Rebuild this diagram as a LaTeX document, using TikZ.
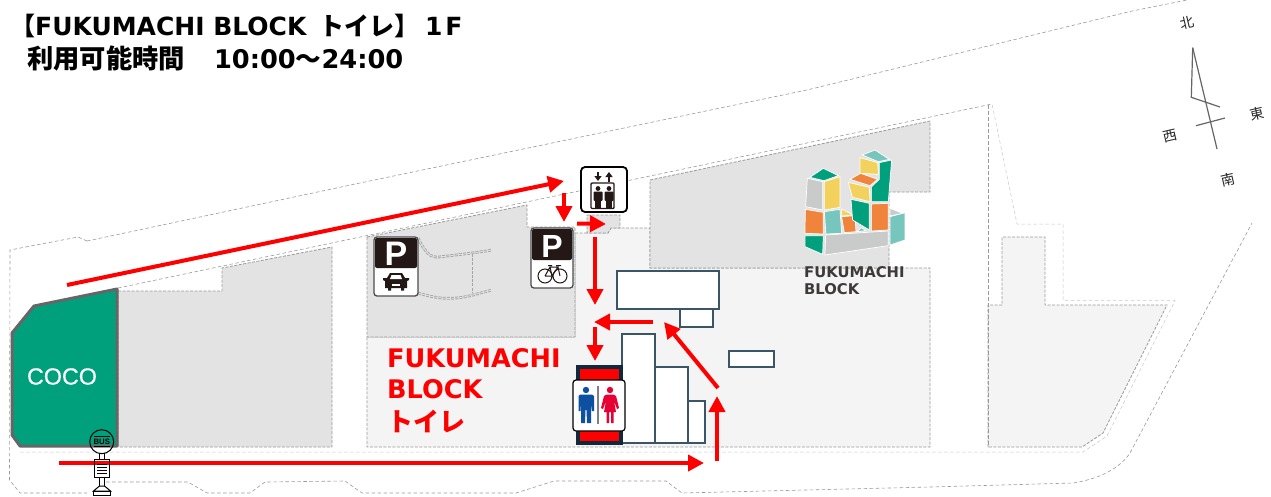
\documentclass[tikz,border=0pt]{standalone}
\usepackage{fontspec}
\setmainfont{DejaVu Sans}
\newfontfamily\cjk{Noto Sans CJK JP}
\newfontfamily\arial{Liberation Sans}
\newfontfamily\arialm[FakeBold=0.7]{Liberation Sans}
\usetikzlibrary{arrows.meta}
\definecolor{gA}{HTML}{E3E3E3}
\definecolor{gB}{HTML}{F4F4F4}
\definecolor{dashc}{HTML}{9A9A9A}
\definecolor{cocoG}{HTML}{00A07D}
\definecolor{lgG}{HTML}{00A07D}
\definecolor{lgY}{HTML}{F2D15C}
\definecolor{lgO}{HTML}{F0843C}
\definecolor{lgT}{HTML}{76C6BD}
\definecolor{lgK}{HTML}{C9CACA}
\definecolor{bld}{HTML}{3A5566}
\definecolor{navy}{HTML}{0F2A3C}
\definecolor{signK}{HTML}{231815}
\definecolor{manB}{HTML}{0D4FA0}
\definecolor{womR}{HTML}{E60033}
\definecolor{logoT}{HTML}{3E3A39}
\tikzset{
  bnd/.style={draw=dashc,line width=0.6pt,dash pattern=on 3.5pt off 2.5pt},
  bndL/.style={draw=dashc!55,line width=0.5pt,dash pattern=on 3.5pt off 2.5pt},
  reg/.style={draw=dashc,line width=0.8pt,dash pattern=on 3pt off 1.5pt},
  pcurve/.style={draw=dashc!90,double=gA,double distance=0.9pt,line width=0.9pt,dash pattern=on 3pt off 1.2pt},
  route/.style={draw=red,line width=4pt,-{Triangle[length=16pt,width=16pt]}},
  bldg/.style={draw=bld,fill=white,line width=1.2pt},
  lg/.style={draw=white,line width=0.7pt},
  txt/.style={inner sep=0pt,anchor=base west},
  comp/.style={draw=black!60,line width=1.2pt},
  compl/.style={inner sep=0pt,font=\cjk\fontsize{14}{14}\selectfont,text=black!85,rotate=13},
  psign/.style={draw=black!70,line width=1.3pt,rounded corners=3pt,fill=white},
}
\begin{document}
\begin{tikzpicture}[x=1pt,y=-1pt]
\useasboundingbox (0,0) rectangle (1271,496);
\fill[white] (0,0) rectangle (1271,496);
% regions
\path[fill=gB,reg] (575,233)--(608,233)--(611,228)--(650,228)--(650,268)--(930,268)--(930,447)--(367,447)--(367,337)--(575,337)--cycle;
\path[fill=gA,reg] (118,291)--(222,291)--(222,268)--(332,247)--(332,447)--(118,447)--cycle;
\path[fill=gA] (367,237)--(527,205)--(527,227)--(575,227)--(575,337)--(367,337)--cycle;
\path[fill=gA,reg] (587,215)--(620,215)--(620,228)--(611,228)--(608,233)--(587,233)--cycle;
\path[fill=gA,reg] (650,180)--(930,121)--(930,192)--(889,192)--(889,268)--(650,268)--cycle;
\path[fill=gB,reg] (988,447)--(988,305)--(1002,305)--(1002,237)--(1045,237)--(1045,305)--(1167,305)--(1103,433)--(1082,447)--cycle;
\draw[reg] (367,237)--(527,205)--(527,227)--(575,227)--(575,337)--(367,337)--cycle;
% outer boundary
\draw[bnd] (87,241)--(360,183)--(600,133)--(807,90)--(1132,11)--(1187,0);
\draw[bnd] (87,241)--(78,237)--(10,250)--(9.5,480)--(20,493)--(87,493);
\draw[bnd] (100,482)--(188,482)--(207,493)--(250,493)--(265,482)--(345,481)--(362,493)--(516,493)--(554,481)--(666,481)--(682,493)--(930,487)--(1073,483) .. controls (1105,478) and (1122,465) .. (1130,453)--(1252,223);
\draw[bnd] (118,288)--(992,104);
\draw[bndL] (20,452)--(1083,452)--(1107,436)--(1175,300.7)--(1063,300.7)--(1063,224)--(1017,224)--(992,104);
\draw[bnd] (988,105)--(988,447);
\draw[pcurve] (418,238) .. controls (425,252) and (430,258) .. (439,257) .. controls (455,255) and (475,253) .. (492,250);
\draw[pcurve] (473,254)--(473,293);
\draw[pcurve] (418,293) .. controls (435,298) and (450,301) .. (473,295)--(492,290);
% COCO
\path[fill=cocoG,draw=black!60,line width=3pt,line join=round] (12,333)--(34,306)--(117,289)--(117,446)--(20,446)--(12,435)--cycle;
\node[inner sep=0pt,text=white] (coco) at (62,376.5) {\arialm\fontsize{23.3}{23}\selectfont COCO};
% buildings
\draw[bldg] (617,271) rectangle (719,309);
\draw[bldg] (680,309) rectangle (713,327);
\draw[bldg] (729,351) rectangle (774,367);
\draw[bldg] (622,334) rectangle (655,443);
\draw[bldg] (655,367) rectangle (688,443);
\draw[bldg] (688,401) rectangle (705,443);
% toilet
\fill[navy] (576,365) rectangle (623,445);
\fill[red] (580,369) rectangle (619,380);
\fill[red] (580,431) rectangle (619,441);
\draw[black,fill=white,line width=1.2pt,rounded corners=3pt] (573,380) rectangle (625,431);
\fill[manB] (586,390) circle (3.2pt);
\fill[manB] (580,394.5)--(592,394.5)--(594,396)--(594,411)--(592,411)--(591,402)--(591,423)--(587,423)--(586.5,410)--(585.5,410)--(585,423)--(581,423)--(581,402)--(580.5,411)--(578.5,411)--(578.5,396)--cycle;
\draw[black!50,line width=1.3pt] (598,386)--(598,424);
\fill[womR] (610,390) circle (3.2pt);
\fill[womR] (606.5,394.5)--(613.5,394.5)--(616,396)--(619,408)--(617,409)--(614,401)--(616,412)--(613.5,412)--(613.5,423)--(611,423)--(611,412)--(609,412)--(609,423)--(606.5,423)--(606.5,412)--(604,412)--(606,401)--(603,409)--(601,408)--(604,396)--cycle;
% routes
\draw[route] (67,285)--(564,181);
\draw[route] (564,193)--(564,222);
\draw[route] (577,223.5)--(606,224);
\draw[route] (595,237)--(595,305);
\draw[route] (653,322)--(594,322);
\draw[route] (595,327)--(595,361);
\draw[route] (718,388)--(664,322);
\draw[route] (717,461)--(717,396);
\draw[route] (59,463)--(704,463);
% parking signs
\draw[psign] (374,237) rectangle (418,296);
\fill[signK,rounded corners=2pt] (375,238) rectangle (417,268);
\node[inner sep=0pt,text=white] (pcar) at (396,254) {\arial\bfseries\fontsize{34}{34}\selectfont P};
\fill[signK] (387,278)--(390,273)--(402,273)--(405,278)--(409,278)--(409,280)--(407,281)--(407,288)--(404,288)--(404,290.5)--(401,290.5)--(401,288)--(391,288)--(391,290.5)--(388,290.5)--(388,288)--(385,288)--(385,281)--(383,280)--(383,278)--cycle;
\fill[white] (390,279)--(391.5,275)--(400.5,275)--(402,279)--cycle;
\fill[white] (392,284) rectangle (400,285.5);
\draw[psign] (531,228) rectangle (573,288);
\fill[signK,rounded corners=2pt] (532,229) rectangle (572,260);
\node[inner sep=0pt,text=white] (pbike) at (552,246) {\arial\bfseries\fontsize{32}{32}\selectfont P};
\draw[signK,line width=1pt] (545,276) circle (7pt) (560,276) circle (7pt);
\draw[signK,line width=1pt] (545,276)--(550,267)--(558,267)--(552,276)--(545,276) (550,267)--(552,276) (558,267)--(560,276) (548,265.5)--(552,265.5) (556,265.5)--(561,265.5);
% elevator
\draw[black,fill=white,line width=1.8pt,rounded corners=4pt] (581,167) rectangle (627,212);
\draw[signK,line width=1.4pt,rounded corners=1pt] (591,183) rectangle (614,208.5);
\draw[signK,line width=1.6pt,-{Triangle[length=5pt,width=7pt]}] (598,172)--(598,181);
\draw[signK,line width=1.6pt,-{Triangle[length=5pt,width=7pt]}] (609,181.5)--(609,172);
\foreach \px in {598,609}{
  \fill[signK] (\px,188.5) circle (2.4pt);
  \fill[signK,rounded corners=1pt] (\px-4.5,191.5) rectangle (\px+4.5,201);
  \fill[signK] (\px-3,200) rectangle (\px+3,207.5);
}
% logo
\begin{scope}[shift={(600,90)},x=0.3333pt,y=-0.3333pt]
\path[fill=lgG,lg] (630,262)--(670,235)--(715,257)--(672,272)--cycle;
\path[fill=lgK,lg] (622,265)--(668,275)--(668,360)--(617,350)--cycle;
\path[fill=lgY,lg] (673,275)--(720,260)--(720,352)--(673,360)--cycle;
\path[fill=lgO,lg] (616,358)--(670,367)--(670,432)--(615,430)--cycle;
\path[fill=lgT,lg] (673,365)--(720,358)--(725,430)--(678,432)--cycle;
\path[fill=lgY,lg] (725,357)--(760,375)--(725,378)--cycle;
\path[fill=lgO,lg] (725,380)--(765,377)--(768,425)--(733,428)--cycle;
\path[fill=lgG,lg] (615,437)--(670,437)--(668,493)--(615,470)--cycle;
\path[fill=lgT,lg] (770,425)--(785,413)--(797,422)--cycle;
\path[fill=lgK,lg] (677,435)--(865,423)--(865,467)--(675,495)--cycle;
\path[fill=lgT,lg] (787,195)--(825,180)--(868,208)--(835,215)--cycle;
\path[fill=lgY,lg] (780,203)--(833,218)--(835,253)--(780,250)--cycle;
\path[fill=lgO,lg] (750,268)--(782,250)--(833,268)--(810,287)--cycle;
\path[fill=lgY,lg] (745,277)--(808,292)--(810,335)--(757,322)--cycle;
\path[fill=lgG,lg] (838,218)--(875,210)--(865,335)--(815,335)--(815,290)--(838,268)--cycle;
\path[fill=lgG,lg] (753,328)--(808,340)--(808,420)--(758,390)--cycle;
\path[fill=lgO,lg] (815,342)--(865,340)--(865,420)--(815,423)--cycle;
\path[fill=lgT,lg] (870,380)--(915,368)--(915,450)--(870,465)--cycle;
\path[fill=lgK,lg] (870,355)--(908,370)--(870,378)--cycle;
\end{scope}
\node[txt,text=logoT] (lg1) at (804,277) {\bfseries\fontsize{14.8}{14}\selectfont FUKUMACHI};
\node[txt,text=logoT] (lg2) at (804,294) {\bfseries\fontsize{14.8}{14}\selectfont BLOCK};
% bus stop
\draw[black,line width=1pt,fill=white] (99.5,453.5) rectangle (104.5,459.5);
\fill[white] (94.3,465.5) rectangle (109.3,477.3);
\draw[black,line width=1pt] (94.3,459.3) rectangle (109.3,477.3);
\draw[black,line width=0.9pt] (97,467)--(107,467) (97,470)--(107,470) (97,473)--(107,473) (97,464)--(107,464);
\draw[black,line width=1pt,fill=white] (99.5,477.3) rectangle (104.5,486);
\draw[black,line width=1pt,fill=white] (99.5,486)--(93.5,491)--(110.5,491)--(104.5,486)--cycle;
\draw[black,line width=1pt,fill=white] (93.5,491) rectangle (110.5,495.5);
\draw[black,line width=1pt] (101.7,441.7) circle (12pt);
\draw[black,line width=0.8pt] (93.5,436.5)--(110,436.5) (93.5,446.5)--(110,446.5);
\node[inner sep=0pt,text=black] (bus) at (101.8,441.8) {\arial\bfseries\fontsize{7.8}{7}\selectfont BUS};
% compass
\draw[comp] (1192.7,47.7)--(1217,149);
\draw[comp] (1192.7,47.7)--(1191.3,97.3)--(1220,107);
\draw[comp] (1196,125.7)--(1225,118);
\node[compl] (nn) at (1187,22.7) {北};
\node[compl] (ne) at (1256.7,114) {東};
\node[compl] (nw) at (1170,136) {西};
\node[compl] (ns) at (1227.7,180) {南};
% titles
\node[txt] (t1) at (10,35) {\bfseries\fontsize{25}{25}\selectfont{\cjk\bfseries 【}FUKUMACHI BLOCK\hspace{4pt} {\cjk\bfseries トイレ】}\hspace{6pt}1\hspace{3pt}F};
\node[txt] (t2) at (27,68) {\bfseries\fontsize{25.7}{25}\selectfont{\cjk\bfseries\fontsize{26.3}{26}\selectfont 利用可能時間}\hspace{29pt}10:00{\cjk\bfseries ～}24:00};
\node[txt,text=red] (r1) at (387,367) {\bfseries\fontsize{25.6}{25}\selectfont FUKUMACHI};
\node[txt,text=red] (r2) at (387,398) {\bfseries\fontsize{25.6}{25}\selectfont BLOCK};
\node[txt,text=red] (r3) at (387,431) {\cjk\bfseries\fontsize{26}{26}\selectfont トイレ};
\end{tikzpicture}
\end{document}
